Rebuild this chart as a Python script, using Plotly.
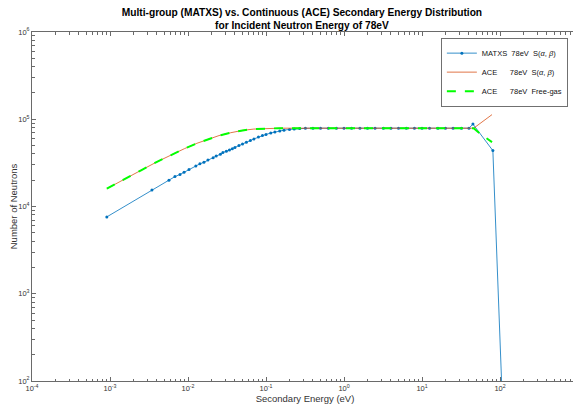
import plotly.graph_objects as go

# ---------------- data ----------------
matxs_energy = [9.1e-4, 3.45e-3, 5.7e-3, 6.8e-3, 7.9e-3, 8.9e-3, 1.03e-2, 1.26e-2, 1.42e-2,
                1.6e-2, 1.8e-2, 2.1e-2, 2.3e-2, 2.6e-2, 2.8e-2, 3.1e-2, 3.4e-2, 3.7e-2, 4.0e-2,
                4.5e-2, 5.0e-2, 5.6e-2, 6.3e-2, 7.0e-2, 8.0e-2, 9.0e-2, 0.1, 0.115, 0.13, 0.15,
                0.17, 0.2, 0.23, 0.27, 0.32, 0.4, 0.5, 0.63, 0.8, 1.0, 1.25, 1.6, 2.0, 2.5, 3.2,
                4.0, 5.0, 6.3, 8.0, 10, 12.5, 16, 20, 25, 32, 40, 45, 81, 107]
matxs_counts = [7.6e3, 1.55e4, 2.0e4, 2.2e4, 2.33e4, 2.47e4, 2.65e4, 2.92e4, 3.08e4,
                3.21e4, 3.41e4, 3.63e4, 3.79e4, 3.96e4, 4.15e4, 4.3e4, 4.45e4, 4.6e4, 4.75e4,
                5.0e4, 5.2e4, 5.45e4, 5.7e4, 5.95e4, 6.25e4, 6.5e4, 6.7e4, 6.95e4, 7.15e4, 7.35e4,
                7.5e4, 7.65e4, 7.75e4, 7.82e4, 7.87e4, 7.9e4, 7.9e4, 7.9e4, 7.9e4, 7.9e4, 7.9e4,
                7.9e4, 7.9e4, 7.9e4, 7.9e4, 7.9e4, 7.9e4, 7.9e4, 7.9e4, 7.9e4, 7.9e4, 7.9e4,
                7.9e4, 7.9e4, 7.9e4, 7.9e4, 8.8e4, 4.37e4, 60]

ace_energy = [9.1e-4, 1.5e-3, 2.5e-3, 4e-3, 6e-3, 9e-3, 1.3e-2, 1.8e-2, 2.5e-2, 3.5e-2,
              5e-2, 7e-2, 0.1, 0.15, 0.2, 0.3, 0.5, 1, 2, 5, 10, 20, 30, 40, 46]
ace_sab_counts = [1.6e4, 2.05e4, 2.6e4, 3.25e4, 3.9e4, 4.6e4, 5.3e4, 5.9e4, 6.5e4, 7.0e4,
                  7.45e4, 7.72e4, 7.85e4, 7.9e4, 7.9e4, 7.9e4, 7.9e4, 7.9e4, 7.9e4, 7.9e4,
                  7.9e4, 7.9e4, 7.9e4, 7.9e4, 7.9e4]
ace_sab_tail_energy = [46, 79]
ace_sab_tail_counts = [7.9e4, 1.13e5]
ace_fg_tail_energy = [46, 55, 72, 79]
ace_fg_tail_counts = [7.9e4, 6.9e4, 5.9e4, 5.47e4]

x_tick_vals = [1e-4, 1e-3, 1e-2, 1e-1, 1e0, 1e1, 1e2, 1e3]
x_tick_text = ["10<sup>-4</sup>", "10<sup>-3</sup>", "10<sup>-2</sup>", "10<sup>-1</sup>",
               "10<sup>0</sup>", "10<sup>1</sup>", "10<sup>2</sup>", "10<sup>3</sup>"]
y_tick_vals = [1e2, 1e3, 1e4, 1e5, 1e6]
y_tick_text = ["10<sup>2</sup>", "10<sup>3</sup>", "10<sup>4</sup>", "10<sup>5</sup>", "10<sup>6</sup>"]

labels = ["MATXS  78eV  S(<i>α</i>, <i>β</i>)",
          "ACE      78eV  S(<i>α</i>, <i>β</i>)",
          "ACE      78eV  Free-gas"]

FONT = "Liberation Sans, Arial, Helvetica"

# ---------------- figure ----------------
fig = go.Figure()
fig.add_trace(go.Scatter(x=matxs_energy, y=matxs_counts, mode="lines+markers",
                         name=labels[0],
                         line=dict(color="#0072BD", width=0.8),
                         marker=dict(color="#0072BD", size=3)))
fig.add_trace(go.Scatter(x=ace_energy + ace_sab_tail_energy[1:],
                         y=ace_sab_counts + ace_sab_tail_counts[1:],
                         mode="lines", name=labels[1],
                         line=dict(color="#D95319", width=0.8)))
fig.add_trace(go.Scatter(x=ace_energy + ace_fg_tail_energy[1:],
                         y=ace_sab_counts + ace_fg_tail_counts[1:],
                         mode="lines", name=labels[2],
                         line=dict(color="#00FF00", width=2, dash="dash")))

axis_common = dict(type="log", showgrid=False, zeroline=False, showline=True,
                   linecolor="#6a6a6a", linewidth=1, mirror="allticks",
                   ticks="inside", ticklen=4, tickcolor="#6a6a6a",
                   tickfont=dict(family=FONT, size=7.5, color="#333"),
                   minor=dict(ticks="inside", dtick="D1", ticklen=2.5,
                              tickcolor="#6a6a6a", showgrid=False),
                   automargin=False)

fig.update_xaxes(**axis_common, range=[-4, 3], tickvals=x_tick_vals, ticktext=x_tick_text,
                 title=dict(text="Secondary Energy (eV)", standoff=3,
                            font=dict(family=FONT, size=9.5, color="#333")))
fig.update_yaxes(**axis_common, range=[2, 6], tickvals=y_tick_vals, ticktext=y_tick_text,
                 title=dict(text="Number of Neutrons", standoff=4,
                            font=dict(family=FONT, size=9.5, color="#333")))

fig.update_layout(
    width=573, height=400,
    margin=dict(l=24, r=3, t=24, b=27),
    paper_bgcolor="white", plot_bgcolor="white",
    title=dict(text="<b>Multi-group (MATXS) vs. Continuous (ACE) Secondary Energy Distribution<br>for Incident Neutron Energy of 78eV</b>",
               x=0.513, xanchor="center", y=0.981, yanchor="middle",
               font=dict(family=FONT, size=10.2, color="#000")),
    legend=dict(x=0.982, y=0.983, xanchor="right", yanchor="top",
                bgcolor="white", bordercolor="#333", borderwidth=0.7,
                font=dict(family=FONT, size=7.5, color="#111"),
                itemwidth=30, tracegroupgap=0),
    showlegend=True,
)

fig.write_html("out.html")
